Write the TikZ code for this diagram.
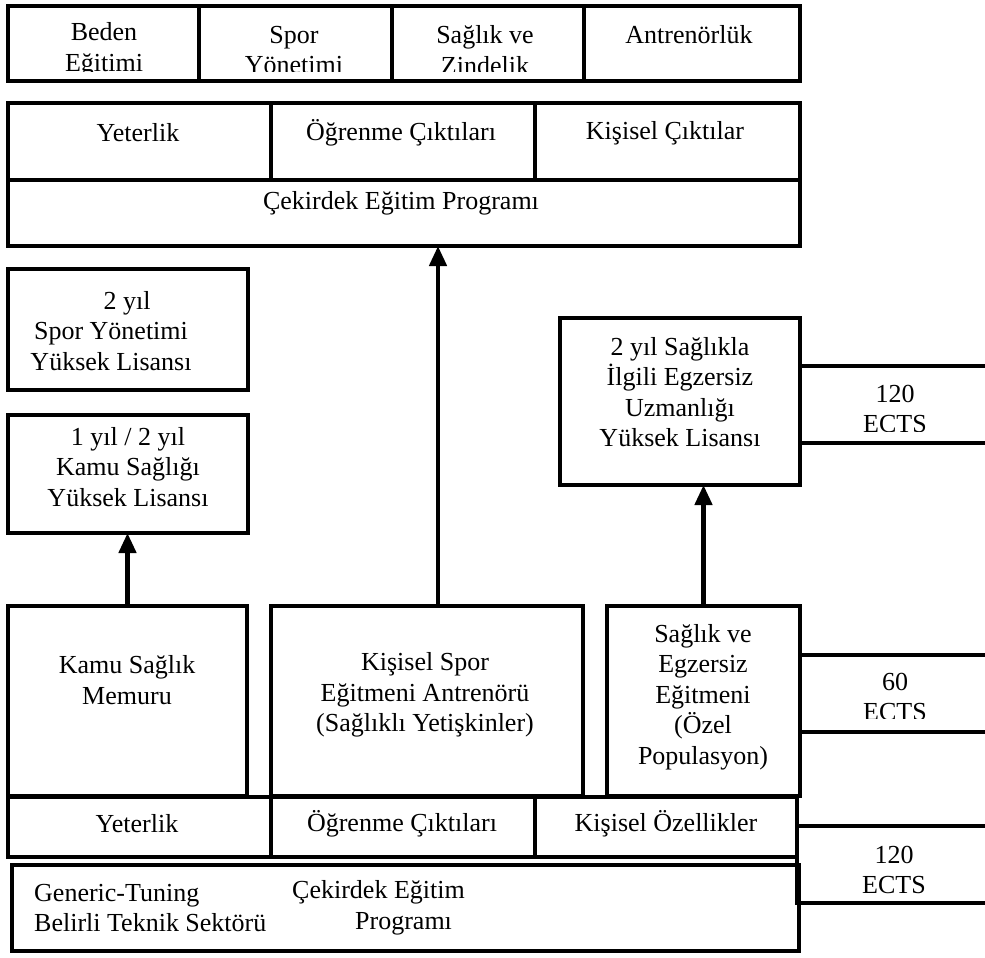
\documentclass[tikz,border=0pt]{standalone}
\usepackage{fontspec}
\setmainfont{Liberation Serif}
\usepackage{tikz}
\usetikzlibrary{arrows.meta}

\begin{document}
\begin{tikzpicture}[x=1pt,y=-1pt,
    >={Triangle[length=20pt,width=17pt]},
    kutu/.style={draw,line width=4.5pt,inner sep=0pt,outer sep=0pt,anchor=north west},
    ayrac/.style={line width=3.5pt},
    kalin/.style={line width=4.5pt},
    yazi/.style={font=\fontsize{26}{30.5}\selectfont,align=center,inner sep=0pt}]
                \useasboundingbox (0,0) rectangle (985,958);
                % boxes
                \node[kutu,minimum width=792pt,minimum height=75pt] (alan) at (8,6) {};
                \node[kutu,minimum width=792pt,minimum height=143pt] (blok) at (8,103) {};
                \node[kutu,minimum width=240pt,minimum height=121pt] (sporyl) at (8,269) {};
                \node[kutu,minimum width=240pt,minimum height=118pt] (kamuyl) at (8,415) {};
                \node[kutu,minimum width=240pt,minimum height=167pt] (uzman) at (560,318) {};
                \node[kutu,minimum width=239pt,minimum height=190pt] (kamu) at (8,606) {};
                \node[kutu,minimum width=312pt,minimum height=190pt] (kisisel) at (271,606) {};
                \node[kutu,minimum width=193pt,minimum height=190pt] (saglik) at (607,606) {};
                \node[kutu,minimum width=789pt,minimum height=60pt] (satir) at (8,797) {};
                \node[kutu,minimum width=787pt,minimum height=86pt] (generic) at (12,865) {};
                % dividers
                \draw[ayrac] (199,6) -- (199,81);
                \draw[ayrac] (392,6) -- (392,81);
                \draw[ayrac] (584,6) -- (584,81);
                \draw[ayrac] (8,180) -- (800,180);
                \draw[ayrac] (271,103) -- (271,180);
                \draw[ayrac] (535,103) -- (535,180);
                \draw[ayrac] (271,797) -- (271,857);
                \draw[ayrac] (535,797) -- (535,857);
                % ECTS
                \coordinate (ects1a) at (985,366);
                \coordinate (ects1b) at (985,443);
                \coordinate (ects2a) at (985,655);
                \coordinate (ects2b) at (985,732);
                \coordinate (ects3a) at (985,826);
                \coordinate (ects3b) at (985,903);
                \draw[kalin] (uzman.east |- ects1a) -- (ects1a);
                \draw[kalin] (uzman.east |- ects1b) -- (ects1b);
                \draw[kalin] (saglik.east |- ects2a) -- (ects2a);
                \draw[kalin] (saglik.east |- ects2b) -- (ects2b);
                \draw[kalin] (ects3a) -- (ects3a -| satir.east) -- (ects3b -| satir.east) -- (ects3b);
                % texts
                \begin{scope}
                \clip (8,6) rectangle (800,72);
                \node[yazi] (beden) at (104,50) {Beden\\Eğitimi};
                \node[yazi] (spor) at (294,50) {Spor\\Yönetimi};
                \node[yazi] (zinde) at (485,50) {Sağlık ve\\Zindelik};
                \node[yazi] (antr) at (689,35) {Antrenörlük};
                \end{scope}
                \node[yazi] (yet1) at (138,133) {Yeterlik};
                \node[yazi] (ogr1) at (401,133) {Öğrenme Çıktıları};
                \node[yazi] (kis1) at (665,133) {Kişisel Çıktılar};
                \node[yazi] (cek1) at (401,203) {Çekirdek Eğitim Programı};
                \node[yazi] (t-sporyl) at (111,331) {\hspace*{32pt}2 yıl\\Spor Yönetimi\\Yüksek Lisansı};
                \node[yazi] (t-kamuyl) at (128,467) {1 yıl / 2 yıl\\Kamu Sağlığı\\Yüksek Lisansı};
                \node[yazi] (t-uzman) at (680,392) {2 yıl Sağlıkla\\İlgili Egzersiz\\Uzmanlığı\\Yüksek Lisansı};
                \node[yazi] (t-kamu) at (127,680) {Kamu Sağlık\\Memuru};
                \node[yazi] (t-kisisel) at (425,695) {Kişisel Spor\\Eğitmeni Antrenörü\\(Sağlıklı Yetişkinler)};
                \node[yazi] (t-saglik) at (703,697) {Sağlık ve\\Egzersiz\\Eğitmeni\\(Özel\\Populasyon)};
                \node[yazi] (yet2) at (137,824) {Yeterlik};
                \node[yazi] (ogr2) at (402,824) {Öğrenme Çıktıları};
                \node[yazi] (kis2) at (666,824) {Kişisel Özellikler};
                \node[yazi,align=left,anchor=west] (t-generic) at (34,908) {Generic-Tuning\\Belirli Teknik Sektörü};
                \node[yazi,align=left,anchor=west] (t-cekirdek) at (292,908) {Çekirdek Eğitim\\\hspace*{63pt}Programı};
                \begin{scope}
                \clip (805,370) rectangle (985,431) (805,659) rectangle (985,718) (805,830) rectangle (985,896);
                \node[yazi] (ects1) at (895,409) {120\\ECTS};
                \node[yazi] (ects2) at (895,697) {60\\ECTS};
                \node[yazi] (ects3) at (894,870) {120\\ECTS};
                \end{scope}
                % arrows
                \draw[->,kalin] (kamu.north) -- (kamu.north |- kamuyl.south);
                \draw[->,kalin] ([xshift=11pt]kisisel.north) -- ([xshift=11pt]kisisel.north |- blok.south);
                \draw[->,kalin] (saglik.north) -- (saglik.north |- uzman.south);
            \end{tikzpicture}
\end{document}
